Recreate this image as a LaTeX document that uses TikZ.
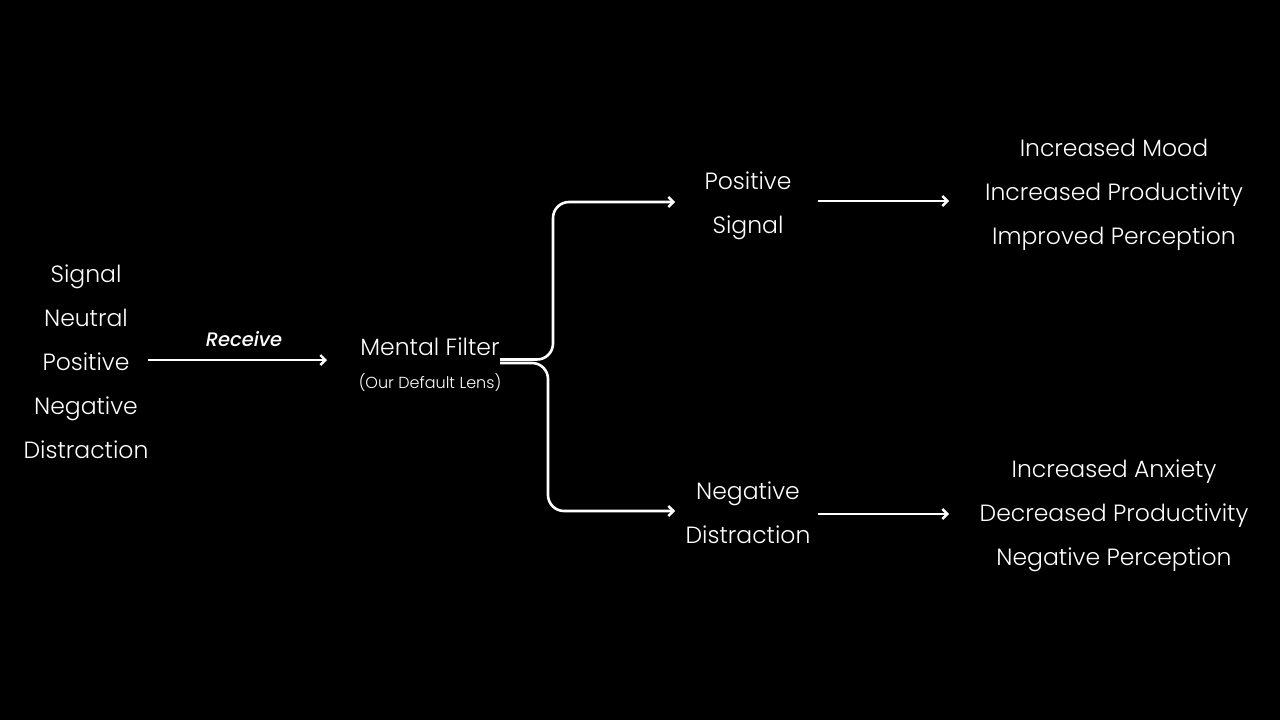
\documentclass[tikz,border=0pt]{standalone}
\usepackage{fontspec}
\setmainfont{Poppins}[UprightFont=* Light, ItalicFont=* Medium Italic]
\usetikzlibrary{arrows.meta}
\tikzset{
  txt/.style={text=white, align=center, inner sep=0pt, font=\fontsize{23.5}{44}\selectfont},
  small/.style={text=white, align=center, inner sep=0pt, font=\fontsize{16}{18}\selectfont},
  lbl/.style={text=white, inner sep=0pt, font=\fontsize{19.5}{22}\selectfont\itshape},
  arr/.style={draw=white, line width=2.6pt, -{Straight Barb[length=5pt,width=10pt,line width=2.4pt]}},
  brace/.style={draw=white, line width=2.6pt, rounded corners=16pt, -{Straight Barb[length=5pt,width=10pt,line width=2.4pt]}}
}
\begin{document}
\begin{tikzpicture}[x=1pt,y=-1pt]
\fill[black] (0,0) rectangle (1280,720);
\useasboundingbox (0,0) rectangle (1280,720);

\node[txt] (list) at (86,362) {Signal\\Neutral\\Positive\\Negative\\Distraction};
\node[txt] (mf) at (430,347) {Mental Filter};
\node[small] (lens) at (430,383) {(Our Default Lens)};
\node[txt] (pos) at (748,206) {Positive\\Signal};
\node[txt] (neg) at (748,513) {Negative\\Distraction};
\node[txt] (posres) at (1114,195) {Increased Mood\\Increased Productivity\\Improved Perception};
\node[txt] (negres) at (1114,516) {Increased Anxiety\\Decreased Productivity\\Negative Perception};

\coordinate (rcvA) at (148,360);
\coordinate (rcvB) at (327,360);
\draw[arr] (rcvA) -- (rcvB);
\node[lbl] (rcv) at (244,339) {Receive};

\coordinate (stemU) at (500,359.5);
\coordinate (stemL) at (500,363);
\coordinate (tipU) at (675,202);
\coordinate (tipL) at (675,511);
\draw[brace] (stemU) -- (553,359.5) -- (553,202) -- (tipU);
\draw[brace] (stemL) -- (548,363) -- (548,511) -- (tipL);

\draw[arr] (818,201) -- (949,201);
\draw[arr] (818,514) -- (949,514);
\end{tikzpicture}
\end{document}
